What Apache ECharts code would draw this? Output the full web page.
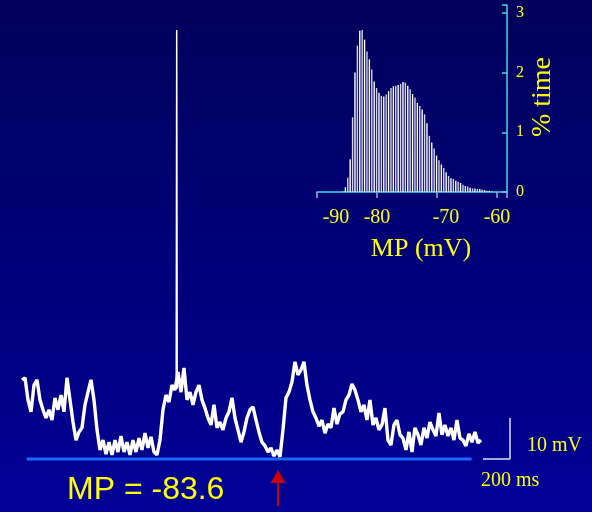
<!DOCTYPE html>
<html><head><meta charset="utf-8">
<script src="https://cdn.jsdelivr.net/npm/echarts@6/dist/echarts.min.js"></script>
<style>html,body{margin:0;padding:0;background:#000070;}#c{width:592px;height:512px;background:linear-gradient(#00005a,#000096);}</style>
</head><body><div id="c"></div>
<script>
// ---- Membrane potential trace (mV), one sample every traceDt ms ----
const traceDt = 22.22;
const traceMv = [
 -64.3,-63.8,-69.2,-72.1,-65.6,-64.3,-69.2,-71.6,-73.6,-71.6,
 -74.1,-68.7,-71.6,-68.0,-72.1,-63.8,-69.2,-74.6,-79.0,-77.0,
 -76.0,-70.4,-67.3,-64.3,-69.2,-76.5,-81.4,-79.0,-82.4,-79.5,
 -82.6,-79.0,-81.9,-78.0,-81.9,-79.5,-82.6,-79.0,-81.9,-78.5,
 -81.4,-77.3,-80.9,-78.2,-81.9,-82.6,-79.0,-71.6,-68.0,-69.7,
 -65.6,-66.8,-62.4,-67.3,-61.4,-69.2,-67.3,-70.4,-67.3,-65.6,
 -69.2,-71.2,-73.6,-75.3,-70.4,-76.0,-74.6,-76.5,-73.6,-72.1,
 -68.7,-73.6,-76.5,-79.5,-77.0,-73.6,-71.6,-70.9,-74.1,-77.0,
 -79.5,-80.4,-81.9,-80.9,-82.9,-81.4,-83.1,-76.5,-68.7,-67.3,
 -64.8,-59.9,-63.1,-61.9,-59.9,-65.6,-69.2,-72.1,-73.6,-75.6,
 -74.1,-77.3,-75.1,-76.0,-71.2,-75.1,-72.6,-72.1,-69.2,-68.0,
 -65.3,-66.8,-69.2,-72.1,-70.4,-74.1,-69.2,-75.3,-73.6,-76.5,
 -75.3,-71.2,-79.0,-80.2,-75.3,-74.1,-77.7,-78.5,-81.4,-77.0,
 -81.9,-76.0,-77.7,-80.2,-76.0,-78.5,-74.6,-76.5,-78.0,-72.4,
 -77.7,-75.3,-78.0,-76.0,-79.0,-74.1,-78.5,-79.0,-80.4,-77.5,
 -79.5,-77.0,-79.7,-79.0
];
// action potential spike
const spikeMs = [1142, 1146, 1150];
const spikeMv = [-66.5, 21.0, -66.5];
// MP line
const mpValue = -83.6;
const mpLineMs = [35, 3331];
// scale bar: 200 ms, 10 mV
const scaleMs = [3415, 3615, 3615];
const scaleMv = [-83.6, -83.6, -73.6];

// ---- Histogram of MP (% time) ----
const histStart = -85.67;
const histBin = 0.4;
const histPct = [
 0.01,0.08,0.24,0.55,1.25,2.00,2.45,2.70,2.71,2.55,
 2.35,2.22,2.05,1.85,1.74,1.66,1.61,1.60,1.63,1.69,
 1.74,1.77,1.78,1.79,1.81,1.84,1.83,1.78,1.72,1.64,
 1.58,1.49,1.44,1.38,1.30,1.15,0.94,0.83,0.73,0.61,
 0.53,0.46,0.40,0.33,0.27,0.23,0.22,0.19,0.17,0.15,
 0.12,0.10,0.09,0.07,0.06,0.06,0.05,0.05,0.04,0.03,
 0.02,0.02,0.01
];
const histXTicks = [-90, -80, -70, -60];
const histYTicks = [0, 1, 2, 3];

const YEL = '#ffff00';
const SERIF = '"Liberation Serif","Times New Roman",serif';
const CYAN = '#40d8e0';

const chart = echarts.init(document.getElementById('c'), null, {renderer: 'canvas'});
const tracePts = traceMv.map((v, i) => [i * traceDt, v]);
const spikePts = spikeMs.map((t, i) => [t, spikeMv[i]]);
const histPts = histPct.map((v, i) => [histStart + i * histBin, v]);

chart.setOption({
  animation: false,
  backgroundColor: 'transparent',
  grid: [
    {left: 22, top: 13.7, width: 540, height: 492},
    {left: 317, top: 5, width: 190, height: 187}
  ],
  xAxis: [
    {gridIndex: 0, type: 'value', min: 0, max: 4000, show: false},
    {gridIndex: 1, type: 'value', min: -90, max: -58.33, interval: 10,
     splitLine: {show: false},
     axisLine: {show: true, lineStyle: {color: CYAN, width: 1.5}},
     axisTick: {show: true, length: 6, lineStyle: {color: '#a8a8d8', width: 1.5}},
     axisLabel: {
       show: true, margin: 16, color: YEL, fontFamily: SERIF, fontSize: 20,
       formatter: function (v) {
         if (histXTicks.indexOf(Math.round(v)) < 0 || Math.abs(v - Math.round(v)) > 0.01) return '';
         return '{s' + Math.abs(Math.round(v)) + '|' + Math.round(v) + '}';
       },
       rich: {
         s90: {color: YEL, fontFamily: SERIF, fontSize: 20, padding: [0, 0, 0, 38]},
         s80: {color: YEL, fontFamily: SERIF, fontSize: 20, padding: [0, 0, 4, 0]},
         s70: {color: YEL, fontFamily: SERIF, fontSize: 20, padding: [0, 0, 0, 18]},
         s60: {color: YEL, fontFamily: SERIF, fontSize: 20, padding: [0, 0, 4, 0]}
       }
     }}
  ],
  yAxis: [
    {gridIndex: 0, type: 'value', min: -95, max: 25, show: false},
    {gridIndex: 1, type: 'value', position: 'right', min: 0, max: 3.13, interval: 1,
     splitLine: {show: false},
     axisLine: {show: true, lineStyle: {color: CYAN, width: 1.5}},
     axisTick: {show: true, inside: true, length: 5, lineStyle: {color: CYAN, width: 1.5}},
     axisLabel: {show: true, margin: 9, color: YEL, fontFamily: SERIF, fontSize: 16,
       formatter: function (v) { return histYTicks.indexOf(v) >= 0 ? String(v) : ''; }}}
  ],
  series: [
    {type: 'line', xAxisIndex: 0, yAxisIndex: 0, data: [[mpLineMs[0], mpValue], [mpLineMs[1], mpValue]],
     symbol: 'none', lineStyle: {color: '#1f66ff', width: 3}, silent: true},
    {type: 'line', xAxisIndex: 0, yAxisIndex: 0, data: tracePts, symbol: 'none',
     lineStyle: {color: '#ffffff', width: 3.4}, silent: true},
    {type: 'line', xAxisIndex: 0, yAxisIndex: 0, data: spikePts, symbol: 'none',
     lineStyle: {color: '#ffffff', width: 1.5}, silent: true},
    {type: 'line', xAxisIndex: 0, yAxisIndex: 0, data: scaleMs.map((t, i) => [t, scaleMv[i]]),
     symbol: 'none', lineStyle: {color: '#e0e0f0', width: 1.5}, silent: true},
    {type: 'bar', xAxisIndex: 1, yAxisIndex: 1, data: histPts, barWidth: 1.4, silent: true,
     itemStyle: {color: function (p) { return p.dataIndex % 2 ? '#ffffff' : '#d4d4f0'; }}}
  ],
  graphic: [
    {type: 'text', left: 67, top: 474, style: {text: 'MP = -83.6', fill: YEL, font: '32px "Liberation Sans", Arial, sans-serif'}},
    {type: 'text', left: 527, top: 436, style: {text: '10 mV', fill: YEL, font: '20px ' + SERIF}},
    {type: 'text', left: 481, top: 471, style: {text: '200 ms', fill: YEL, font: '20px ' + SERIF}},
    {type: 'text', x: 421, y: 249, style: {text: 'MP (mV)', fill: YEL, font: '26px ' + SERIF, align: 'center', verticalAlign: 'middle'}},
    {type: 'text', x: 543, y: 97, rotation: Math.PI / 2, style: {text: '% time', fill: YEL, font: '28px ' + SERIF, align: 'center', verticalAlign: 'middle'}},
    {type: 'polygon', shape: {points: [[278, 470], [270.5, 483], [285.5, 483]]}, style: {fill: '#cc0000'}},
    {type: 'line', shape: {x1: 278, y1: 482, x2: 278, y2: 506}, style: {stroke: '#cc0000', lineWidth: 2}}
  ]
});
</script></body></html>
